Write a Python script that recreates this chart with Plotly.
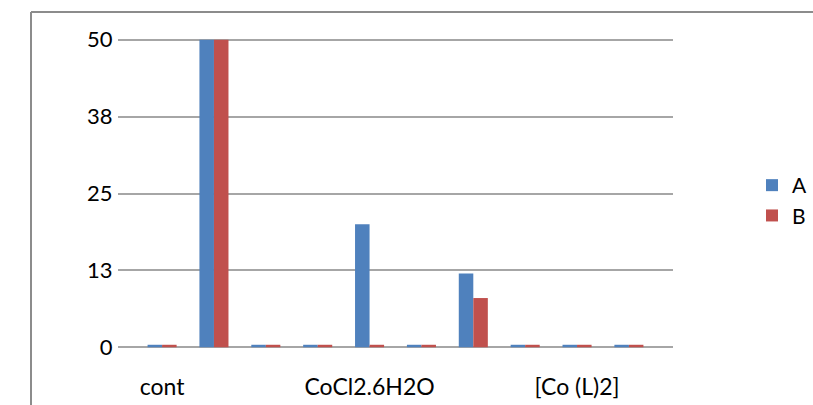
import plotly.graph_objects as go

# Data
categories = list(range(10))
tick_positions = [0, 4, 8]
tick_labels = ["cont", "CoCl2.6H2O", "[Co (L)2]"]
series_a = [0.4, 50, 0.4, 0.4, 20, 0.4, 12, 0.4, 0.4, 0.4]
series_b = [0.4, 50, 0.4, 0.4, 0.4, 0.4, 8, 0.4, 0.4, 0.4]
y_tickvals = [0, 12.5, 25, 37.5, 50]
y_ticktext = ["0", "13", "25", "38", "50"]

BLUE = "#4F81BD"
RED = "#C0504D"
FONT = "Lato, 'Open Sans', sans-serif"

fig = go.Figure()
fig.add_trace(go.Bar(x=categories, y=series_a, name="A", marker_color=BLUE,
                     marker_line_width=0))
fig.add_trace(go.Bar(x=categories, y=series_b, name="B", marker_color=RED,
                     marker_line_width=0))

L, R, T, B = 118, 140, 37, 55
W, H = 813, 405
pw = W - L - R
ph = H - T - B

def px_x(p):
    return (p - L) / pw

def px_y(p):
    return (H - B - p) / ph

fig.update_layout(
    width=W, height=H,
    margin=dict(l=L, r=R, t=T, b=B, autoexpand=False),
    paper_bgcolor="white", plot_bgcolor="white",
    barmode="group", bargap=0.44, bargroupgap=0,
    font=dict(family=FONT, size=22, color="black"),
    xaxis=dict(range=[-0.85, 9.85], tickvals=tick_positions, ticktext=tick_labels,
               showgrid=False, zeroline=False, showline=False,
               ticks="outside", ticklen=16, tickcolor="rgba(0,0,0,0)",
               tickfont=dict(size=23)),
    yaxis=dict(range=[-0.45, 50.45], tickvals=y_tickvals, ticktext=y_ticktext,
               showgrid=True, gridcolor="#A6A6A6", gridwidth=1.5,
               zeroline=False, showline=False,
               ticks="outside", ticklen=0, tickcolor="rgba(0,0,0,0)",
               tickfont=dict(size=22)),
    legend=dict(xref="container", yref="container",
                x=752 / W, y=1 - 165 / H, xanchor="left", yanchor="top",
                font=dict(size=21), itemsizing="constant", itemwidth=30,
                tracegroupgap=0, bgcolor="rgba(0,0,0,0)"),
    shapes=[
        dict(type="line", xref="paper", yref="paper",
             x0=px_x(31), x1=px_x(31), y0=px_y(12), y1=px_y(410),
             line=dict(color="#8C8C8C", width=2)),
        dict(type="line", xref="paper", yref="paper",
             x0=px_x(31), x1=px_x(820), y0=px_y(12), y1=px_y(12),
             line=dict(color="#8C8C8C", width=2)),
    ],
)

fig.write_html("out.html")
